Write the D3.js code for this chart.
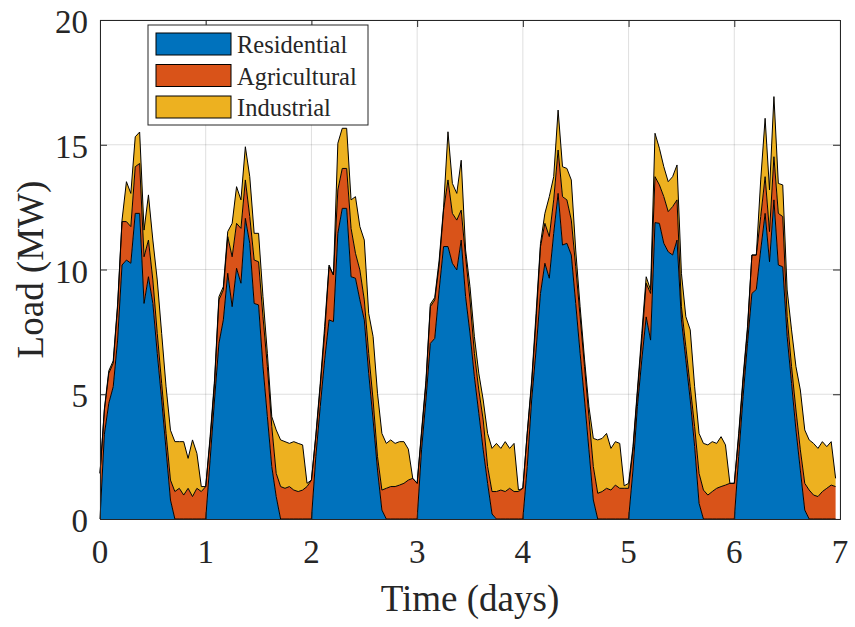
<!DOCTYPE html>
<html>
<head>
<meta charset="utf-8">
<script src="https://cdn.jsdelivr.net/npm/d3@7"></script>
<style>
  body { margin: 0; background: #fff; }
  text { font-family: "Liberation Serif", "Times New Roman", serif; fill: #262626; }
</style>
</head>
<body>
<svg id="chart" width="855" height="627"></svg>
<script>
// hourly load per sector over one week (MW)
const seriesNames = ["Residential", "Agricultural", "Industrial"];
const seriesColors = ["#0072BD", "#D95319", "#EDB120"];

const residential = [
  0, 3.4, 4.64, 5.3, 7.17, 10.18, 10.38, 10.25, 12.25, 12.25, 8.64, 9.71, 8.64, 6.64, 4.77, 2.77, 0.76, 0, 0, 0, 0, 0, 0, 0,
  0, 2.36, 4.77, 7.04, 7.98, 9.85, 8.51, 10.05, 9.45, 12.05, 11.05, 8.64, 8.58, 6.11, 4.1, 2.1, 0.9, 0, 0, 0, 0, 0, 0, 0,
  0, 2.5, 4.5, 6.37, 7.98, 7.91, 11.45, 12.45, 12.45, 9.71, 9.65, 8.78, 7.98, 5.84, 3.97, 1.96, 0.36, 0, 0, 0, 0, 0, 0, 0,
  0, 2.77, 4.77, 7.04, 7.24, 9.18, 10.92, 10.92, 10.25, 9.98, 11.18, 8.91, 7.44, 5.7, 4.24, 2.77, 1.43, 0.2, 0, 0, 0, 0, 0, 0,
  0, 2.1, 4.77, 6.77, 9.04, 10.25, 9.65, 11.45, 13.05, 10.98, 11.05, 10.58, 8.64, 6.64, 4.77, 2.77, 0.76, 0, 0, 0, 0, 0, 0, 0,
  0, 1.96, 4.5, 6.37, 8.1, 7.17, 11.88, 11.85, 11.05, 10.71, 10.58, 11.18, 7.98, 6.37, 4.77, 2.9, 0.63, 0, 0, 0, 0, 0, 0, 0,
  0, 2.5, 4.9, 7.04, 9.04, 9.2, 10.78, 12.25, 10.31, 12.79, 10.18, 10.11, 7.31, 5.44, 3.57, 1.96, 0.36, 0, 0, 0, 0, 0, 0, 0
];

const agricultural = [
  1.83, 0.97, 1.2, 0.94, 1.34, 1.74, 1.54, 1.47, 1.87, 2.0, 1.87, 1.47, 0.94, 0.8, 0.67, 0.66, 0.8, 1.1, 1.23, 0.96, 1.23, 0.9, 1.23, 1.1,
  1.3, 0.81, 0.67, 1.74, 1.2, 1.47, 2.0, 1.8, 2.2, 1.54, 1.07, 1.74, 1.73, 2.0, 2.01, 1.6, 0.93, 1.3, 1.23, 1.3, 1.16, 1.1, 1.16, 1.3,
  1.56, 0.8, 0.8, 1.07, 2.13, 1.87, 1.74, 1.6, 1.6, 1.94, 1.0, 1.2, 0.8, 0.8, 0.8, 0.54, 0.8, 1.23, 1.3, 1.3, 1.36, 1.43, 1.56, 1.63,
  1.43, 0.66, 0.67, 1.47, 1.54, 1.0, 1.46, 2.67, 2.0, 2.0, 1.2, 1.6, 1.34, 0.94, 0.93, 1.2, 0.67, 0.9, 1.1, 1.16, 1.1, 1.23, 1.1, 1.1,
  1.23, 1.33, 0.67, 1.2, 1.87, 1.6, 1.67, 1.34, 1.74, 1.94, 1.74, 1.4, 1.47, 1.47, 1.34, 1.33, 1.34, 1.03, 1.1, 1.23, 1.16, 1.36, 1.23, 1.23,
  1.23, 0.81, 0.54, 0.8, 1.35, 1.87, 1.84, 1.54, 1.87, 1.61, 1.94, 1.61, 0.53, 0.54, 0.53, 0.8, 1.2, 1.16, 0.96, 1.1, 1.23, 1.3, 1.36, 1.43,
  1.43, 0.8, 0.67, 0.54, 1.54, 1.38, 1.34, 1.47, 1.21, 1.73, 2.07, 2.01, 0.8, 0.67, 0.8, 0.81, 1.07, 1.16, 0.96, 0.9, 1.1, 1.23, 1.36, 1.3
];

const industrial = [
  0, 0.05, 0.1, 0.1, 0.1, 0.06, 1.6, 1.33, 1.2, 1.26, 1.07, 1.81, 1.6, 2.14, 2.0, 1.87, 2.0, 2.0, 1.87, 2.14, 1.2, 2.27, 1.4, 0.2,
  0, 0.13, 0.13, 0.13, 0.13, 0.2, 1.34, 1.47, 1.14, 1.33, 1.6, 1.07, 1.14, 0.8, 0.53, 0.4, 1.74, 1.87, 1.87, 1.73, 1.94, 1.93, 1.81, 0.13,
  0, 0.07, 0.14, 0.27, 0.07, 0, 1.87, 1.61, 1.61, 1.14, 2.27, 1.74, 2.4, 1.6, 2.54, 2.54, 2.27, 1.8, 1.87, 1.73, 1.74, 1.67, 1.24, 0,
  0, 0.1, 0.1, 0.1, 0.1, 0.2, 0.1, 1.93, 1.2, 1.07, 2.0, 0.27, 0.53, 0.67, 0.67, 0.8, 1.33, 1.73, 1.93, 1.67, 2.0, 1.6, 1.93, 0.06,
  0, 0.05, 0.13, 0.27, 0.13, 0.4, 1.6, 0.93, 1.6, 1.2, 1.26, 1.61, 0.67, 0.4, 0.3, 0.4, 1.13, 2.14, 2.13, 2.2, 1.67, 1.74, 1.8, 0.1,
  0.2, 0.13, 0.13, 0.27, 0.26, 0.14, 1.74, 1.47, 1.2, 1.2, 1.2, 1.4, 1.34, 1.2, 2.28, 1.6, 1.6, 1.87, 2.01, 2.0, 1.8, 2.0, 1.61, 0,
  0, 0.13, 0.13, 0.13, 0, 0, 1.47, 2.34, 1.67, 2.41, 1.2, 1.27, 1.07, 1.47, 1.74, 2.4, 2.14, 2.01, 2.07, 1.93, 2.0, 1.67, 1.74, 0.33
];

const xTicks = [0, 1, 2, 3, 4, 5, 6, 7];
const yTicks = [0, 5, 10, 15, 20];
const xLabel = "Time (days)";
const yLabel = "Load (MW)";

const W = 855, H = 627;
const margin = { top: 20, right: 15, bottom: 108, left: 100 };
const iw = W - margin.left - margin.right;
const ih = H - margin.top - margin.bottom;
const axisColor = "#262626";
const tickLen = 7;

const rows = residential.map((r, i) => ({
  t: i / 24,
  Residential: r,
  Agricultural: agricultural[i],
  Industrial: industrial[i]
}));

const svg = d3.select("#chart");
const g = svg.append("g").attr("transform", `translate(${margin.left},${margin.top})`);

const x = d3.scaleLinear().domain([0, 7]).range([0, iw]);
const y = d3.scaleLinear().domain([0, 20]).range([ih, 0]);

// grid behind the areas
g.append("g").selectAll("line").data(xTicks).join("line")
  .attr("x1", d => x(d)).attr("x2", d => x(d))
  .attr("y1", 0).attr("y2", ih)
  .attr("stroke", axisColor).attr("stroke-opacity", 0.15).attr("stroke-width", 1);
g.append("g").selectAll("line").data(yTicks).join("line")
  .attr("x1", 0).attr("x2", iw)
  .attr("y1", d => y(d)).attr("y2", d => y(d))
  .attr("stroke", axisColor).attr("stroke-opacity", 0.15).attr("stroke-width", 1);

const stacked = d3.stack().keys(seriesNames)(rows);

const area = d3.area()
  .x(d => x(d.data.t))
  .y0(d => y(d[0]))
  .y1(d => y(d[1]));
const topLine = d3.line()
  .x(d => x(d.data.t))
  .y(d => y(d[1]));

g.append("g").selectAll("path").data(stacked).join("path")
  .attr("d", area)
  .attr("fill", (d, i) => seriesColors[i])
  .attr("stroke", "none");

g.append("g").selectAll("path").data(stacked).join("path")
  .attr("d", topLine)
  .attr("fill", "none")
  .attr("stroke", "#000")
  .attr("stroke-width", 1)
  .attr("stroke-linejoin", "round");

// axes: ticks inward on all four sides, box on
const axB = g.append("g").attr("transform", `translate(0,${ih})`)
  .call(d3.axisBottom(x).tickValues(xTicks).tickSize(-tickLen).tickPadding(0).tickFormat(""));
const axT = g.append("g")
  .call(d3.axisTop(x).tickValues(xTicks).tickSize(-tickLen).tickFormat(""));
const axL = g.append("g")
  .call(d3.axisLeft(y).tickValues(yTicks).tickSize(-tickLen).tickFormat(""));
const axR = g.append("g").attr("transform", `translate(${iw},0)`)
  .call(d3.axisRight(y).tickValues(yTicks).tickSize(-tickLen).tickFormat(""));
[axB, axT, axL, axR].forEach(a => {
  a.selectAll("path.domain").attr("stroke", axisColor).attr("stroke-width", 1);
  a.selectAll(".tick line").attr("stroke", axisColor).attr("stroke-width", 1);
});

// tick labels
g.append("g").selectAll("text").data(xTicks).join("text")
  .attr("x", d => x(d)).attr("y", ih + 44)
  .attr("text-anchor", "middle")
  .style("font-size", "33px")
  .text(d => d);
g.append("g").selectAll("text").data(yTicks).join("text")
  .attr("x", -12).attr("y", d => y(d) + 13)
  .attr("text-anchor", "end")
  .style("font-size", "33px")
  .text(d => d);

// axis labels
svg.append("text")
  .attr("x", margin.left + iw / 2).attr("y", 611)
  .attr("text-anchor", "middle")
  .style("font-size", "37px")
  .text(xLabel);
svg.append("text")
  .attr("transform", `translate(43,${margin.top + ih / 2}) rotate(-90)`)
  .attr("text-anchor", "middle")
  .style("font-size", "37px")
  .text(yLabel);

// legend
const legend = svg.append("g").attr("transform", "translate(148,25)");
legend.append("rect")
  .attr("width", 220).attr("height", 100)
  .attr("fill", "#fff").attr("stroke", axisColor).attr("stroke-width", 1);
const item = legend.selectAll("g.item").data(seriesNames).join("g")
  .attr("class", "item")
  .attr("transform", (d, i) => `translate(8,${8 + i * 31.5})`);
item.append("rect")
  .attr("width", 75).attr("height", 22)
  .attr("fill", (d, i) => seriesColors[i])
  .attr("stroke", "#000").attr("stroke-width", 1);
item.append("text")
  .attr("x", 81).attr("y", 20)
  .style("font-size", "24.5px")
  .text(d => d);
</script>
</body>
</html>
